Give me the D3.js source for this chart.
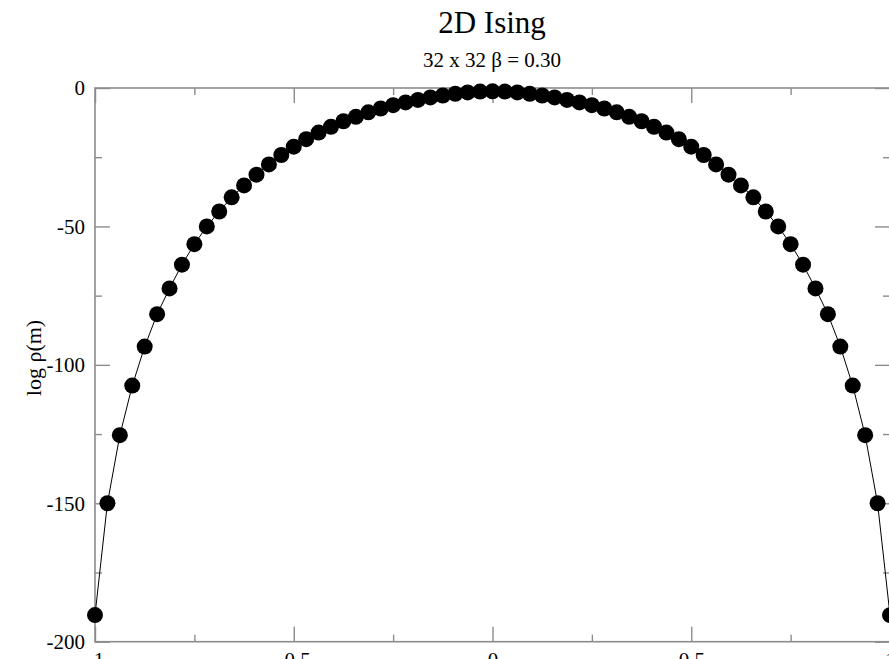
<!DOCTYPE html>
<html>
<head>
<meta charset="utf-8">
<script src="https://cdn.jsdelivr.net/npm/d3@7"></script>
<style>
  html, body { margin: 0; padding: 0; background: #fff; }
  svg { display: block; }
  text { font-family: "Liberation Serif", "Times New Roman", serif; fill: #000; }
</style>
</head>
<body>
<svg id="chart" width="889" height="659"></svg>
<script>
// magnetisation per spin, m = k/32
const magnetization = [
  -1.00000, -0.96875, -0.93750, -0.90625, -0.87500, -0.84375, -0.81250, -0.78125,
  -0.75000, -0.71875, -0.68750, -0.65625, -0.62500, -0.59375, -0.56250, -0.53125,
  -0.50000, -0.46875, -0.43750, -0.40625, -0.37500, -0.34375, -0.31250, -0.28125,
  -0.25000, -0.21875, -0.18750, -0.15625, -0.12500, -0.09375, -0.06250, -0.03125,
   0.00000,
   0.03125,  0.06250,  0.09375,  0.12500,  0.15625,  0.18750,  0.21875,  0.25000,
   0.28125,  0.31250,  0.34375,  0.37500,  0.40625,  0.43750,  0.46875,  0.50000,
   0.53125,  0.56250,  0.59375,  0.62500,  0.65625,  0.68750,  0.71875,  0.75000,
   0.78125,  0.81250,  0.84375,  0.87500,  0.90625,  0.93750,  0.96875,  1.00000
];

// log of the magnetisation density
const logRho = [
  -190.4, -150.0, -125.4, -107.5, -93.4, -81.7, -72.4, -63.8,
  -56.4, -50.0, -44.6, -39.5, -35.2, -31.3, -27.6, -24.2,
  -21.2, -18.5, -16.1, -14.0, -12.0, -10.4, -8.8, -7.4,
  -6.2, -5.2, -4.3, -3.4, -2.7, -2.1, -1.6, -1.3,
  -1.2,
  -1.3, -1.6, -2.1, -2.7, -3.4, -4.3, -5.2, -6.2,
  -7.4, -8.8, -10.4, -12.0, -14.0, -16.1, -18.5, -21.2,
  -24.2, -27.6, -31.3, -35.2, -39.5, -44.6, -50.0, -56.4,
  -63.8, -72.4, -81.7, -93.4, -107.5, -125.4, -150.0, -190.4
];

const xMajorTicks = [-1, -0.5, 0, 0.5, 1];
const xMinorTicks = [-0.75, -0.25, 0.25, 0.75];
const yMajorTicks = [-200, -150, -100, -50, 0];
const yMinorTicks = [-175, -125, -75, -25];

const titleText = "2D Ising";
const subtitleText = "32 x 32 \u03B2 = 0.30";
const yLabelText = "log \u03C1(m)";

const svg = d3.select("#chart");
const plotLeft = 95, plotRight = 890, plotTop = 88, plotBottom = 641.7;

const x = d3.scaleLinear().domain([-1, 1]).range([plotLeft, plotRight]);
const y = d3.scaleLinear().domain([-200, 0]).range([plotBottom, plotTop]);

const axisColor = "#8c8c8c";
const majorLen = 15, minorLen = 7;
// plain hyphen-minus for negative tick values
const plainNumber = d => String(d);

function styleAxis(g, showText) {
  g.select(".domain").remove();
  g.selectAll(".tick line").attr("stroke", axisColor).attr("stroke-width", 1.4);
  if (showText) {
    g.selectAll(".tick text").attr("fill", "#000").style("font-size", "21px");
  } else {
    g.selectAll(".tick text").remove();
  }
}

// bottom axis: labelled major ticks pointing inward
svg.append("g").attr("transform", `translate(0,${plotBottom})`)
  .call(d3.axisBottom(x).tickValues(xMajorTicks)
    .tickSizeInner(-majorLen).tickSizeOuter(0).tickPadding(10)
    .tickFormat(plainNumber))
  .call(g => styleAxis(g, true));
svg.append("g").attr("transform", `translate(0,${plotBottom})`)
  .call(d3.axisBottom(x).tickValues(xMinorTicks).tickSizeInner(-minorLen).tickSizeOuter(0))
  .call(g => styleAxis(g, false));

// top axis: ticks only
svg.append("g").attr("transform", `translate(0,${plotTop})`)
  .call(d3.axisTop(x).tickValues(xMajorTicks).tickSizeInner(-majorLen).tickSizeOuter(0))
  .call(g => styleAxis(g, false));
svg.append("g").attr("transform", `translate(0,${plotTop})`)
  .call(d3.axisTop(x).tickValues(xMinorTicks).tickSizeInner(-minorLen).tickSizeOuter(0))
  .call(g => styleAxis(g, false));

// left axis with labels
svg.append("g").attr("transform", `translate(${plotLeft},0)`)
  .call(d3.axisLeft(y).tickValues(yMajorTicks)
    .tickSizeInner(-majorLen).tickSizeOuter(0)
    .tickFormat(plainNumber))
  .call(g => styleAxis(g, true))
  .call(g => g.selectAll(".tick text").attr("x", -10));
svg.append("g").attr("transform", `translate(${plotLeft},0)`)
  .call(d3.axisLeft(y).tickValues(yMinorTicks).tickSizeInner(-minorLen).tickSizeOuter(0))
  .call(g => styleAxis(g, false));

// right axis: ticks only
svg.append("g").attr("transform", `translate(${plotRight},0)`)
  .call(d3.axisRight(y).tickValues(yMajorTicks).tickSizeInner(-majorLen).tickSizeOuter(0))
  .call(g => styleAxis(g, false));
svg.append("g").attr("transform", `translate(${plotRight},0)`)
  .call(d3.axisRight(y).tickValues(yMinorTicks).tickSizeInner(-minorLen).tickSizeOuter(0))
  .call(g => styleAxis(g, false));

// frame
svg.append("rect")
  .attr("x", plotLeft).attr("y", plotTop)
  .attr("width", plotRight - plotLeft).attr("height", plotBottom - plotTop)
  .attr("fill", "none").attr("stroke", axisColor).attr("stroke-width", 1.6);

const points = magnetization.map((m, i) => ({ m, v: logRho[i] }));

// connecting line
svg.append("path")
  .datum(points)
  .attr("fill", "none")
  .attr("stroke", "#000")
  .attr("stroke-width", 1)
  .attr("d", d3.line().x(d => x(d.m)).y(d => y(d.v)));

// markers
svg.append("g").selectAll("circle")
  .data(points)
  .join("circle")
  .attr("cx", d => x(d.m))
  .attr("cy", d => y(d.v))
  .attr("r", 8)
  .attr("fill", "#000");

// titles
svg.append("text")
  .attr("x", 492).attr("y", 33)
  .attr("text-anchor", "middle")
  .style("font-size", "31px")
  .text(titleText);
svg.append("text")
  .attr("x", 492).attr("y", 67)
  .attr("text-anchor", "middle")
  .style("font-size", "21px")
  .text(subtitleText);

// y axis label
svg.append("text")
  .attr("transform", "translate(41,358) rotate(-90)")
  .attr("text-anchor", "middle")
  .style("font-size", "22px")
  .text(yLabelText);
</script>
</body>
</html>
